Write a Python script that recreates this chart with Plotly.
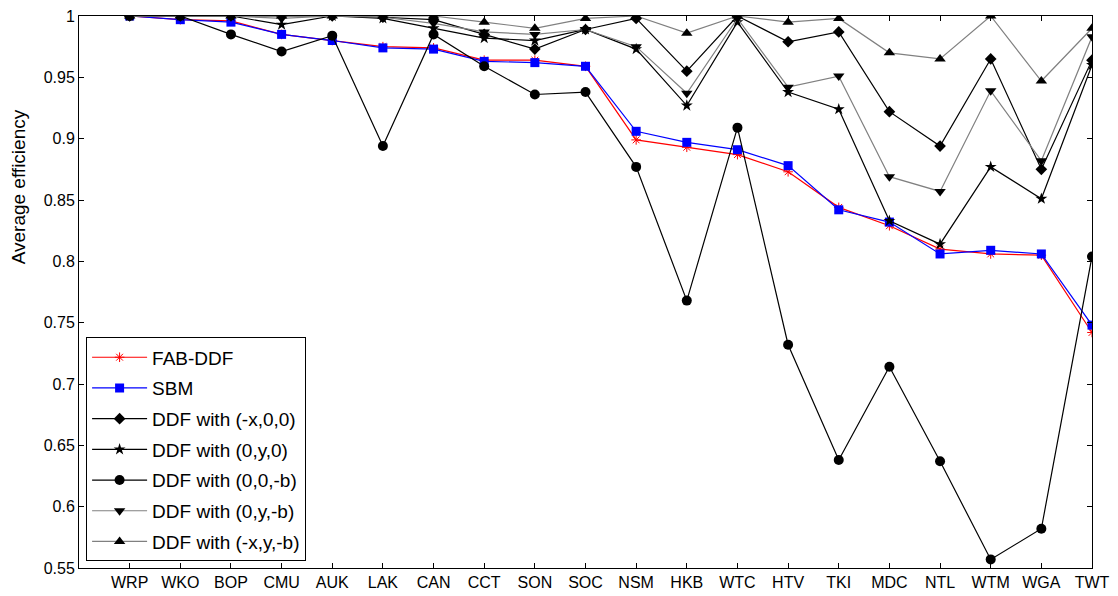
import plotly.graph_objects as go

categories = ["WRP", "WKO", "BOP", "CMU", "AUK", "LAK", "CAN", "CCT", "SON", "SOC",
              "NSM", "HKB", "WTC", "HTV", "TKI", "MDC", "NTL", "WTM", "WGA", "TWT"]

fab_ddf = [1.000, 0.997, 0.996, 0.985, 0.980, 0.975, 0.974, 0.964, 0.964, 0.959,
           0.899, 0.893, 0.887, 0.873, 0.844, 0.829, 0.810, 0.806, 0.805, 0.742]
sbm = [1.000, 0.997, 0.995, 0.985, 0.980, 0.974, 0.973, 0.963, 0.962, 0.959,
       0.906, 0.897, 0.891, 0.878, 0.842, 0.832, 0.806, 0.809, 0.806, 0.748]
ddf_x = [1.000, 1.000, 1.000, 1.000, 1.000, 0.999, 0.997, 0.985, 0.973, 0.989,
         0.998, 0.955, 1.000, 0.979, 0.987, 0.922, 0.894, 0.965, 0.875, 0.964]
ddf_y = [1.000, 1.000, 1.000, 0.993, 1.000, 0.998, 0.990, 0.982, 0.980, 0.989,
         0.973, 0.927, 0.995, 0.938, 0.924, 0.833, 0.814, 0.877, 0.851, 0.960]
ddf_b = [1.000, 1.000, 0.985, 0.971, 0.984, 0.894, 0.985, 0.959, 0.936, 0.938,
         0.877, 0.768, 0.909, 0.732, 0.638, 0.714, 0.637, 0.557, 0.582, 0.804]
ddf_yb = [1.000, 1.000, 1.000, 0.998, 1.000, 0.999, 0.994, 0.987, 0.985, 0.989,
          0.975, 0.937, 0.998, 0.942, 0.951, 0.869, 0.857, 0.939, 0.882, 0.983]
ddf_xyb = [1.000, 1.000, 1.000, 1.000, 1.000, 1.000, 1.000, 0.995, 0.990, 0.998,
           1.000, 0.986, 1.000, 0.995, 0.998, 0.970, 0.965, 1.000, 0.947, 0.990]

y_ticks = [0.55, 0.6, 0.65, 0.7, 0.75, 0.8, 0.85, 0.9, 0.95, 1.0]
y_tick_text = ["0.55", "0.6", "0.65", "0.7", "0.75", "0.8", "0.85", "0.9", "0.95", "1"]

series = [
    ("FAB-DDF", fab_ddf, "red", "asterisk-open", 8, "red"),
    ("SBM", sbm, "blue", "square", 9, "blue"),
    ("DDF with (-x,0,0)", ddf_x, "black", "diamond", 9, "black"),
    ("DDF with (0,y,0)", ddf_y, "black", "star", 9, "black"),
    ("DDF with (0,0,-b)", ddf_b, "black", "circle", 10, "black"),
    ("DDF with (0,y,-b)", ddf_yb, "#808080", "triangle-down", 10, "black"),
    ("DDF with (-x,y,-b)", ddf_xyb, "#808080", "triangle-up", 10, "black"),
]

fig = go.Figure()
for i, (name, vals, lcol, sym, size, mcol) in enumerate(series):
    marker = dict(symbol=sym, size=size, color=mcol)
    if sym == "asterisk-open":
        marker["line"] = dict(color=mcol, width=1)
    fig.add_trace(go.Scatter(
        x=categories, y=vals, name=name, mode="lines+markers",
        line=dict(color=lcol, width=1.2), marker=marker,
        legendgroup="g%d" % i,
    ))

fig.update_layout(
    template="none",
    width=1110, height=588,
    margin=dict(l=71, r=26, t=8, b=28, autoexpand=False),
    paper_bgcolor="white", plot_bgcolor="white",
    font=dict(family="Liberation Sans, Arial, sans-serif", size=16, color="black"),
    showlegend=True,
    legend=dict(
        x=0.007, y=0.012, xanchor="left", yanchor="bottom",
        bgcolor="white", bordercolor="black", borderwidth=1,
        font=dict(size=19), tracegroupgap=3, traceorder="grouped",
        itemwidth=55,
    ),
    xaxis=dict(
        type="category", range=[-1, 19], showgrid=False, zeroline=False,
        showline=True, linecolor="black", linewidth=1, mirror="ticks",
        ticks="inside", ticklen=5, tickcolor="black", automargin=False,
        ticklabeloverflow="allow",
    ),
    yaxis=dict(
        range=[0.55, 1.0], showgrid=False, zeroline=False,
        showline=True, linecolor="black", linewidth=1, mirror="ticks",
        ticks="inside", ticklen=5, tickcolor="black", automargin=False,
        tickvals=y_ticks, ticktext=y_tick_text, ticklabeloverflow="allow",
    ),
    annotations=[dict(
        text="Average efficiency", xref="paper", yref="paper",
        x=-0.06, y=0.69, textangle=-90, showarrow=False,
        font=dict(size=19), xanchor="center", yanchor="middle",
    )],
)

fig.write_html("out.html")
